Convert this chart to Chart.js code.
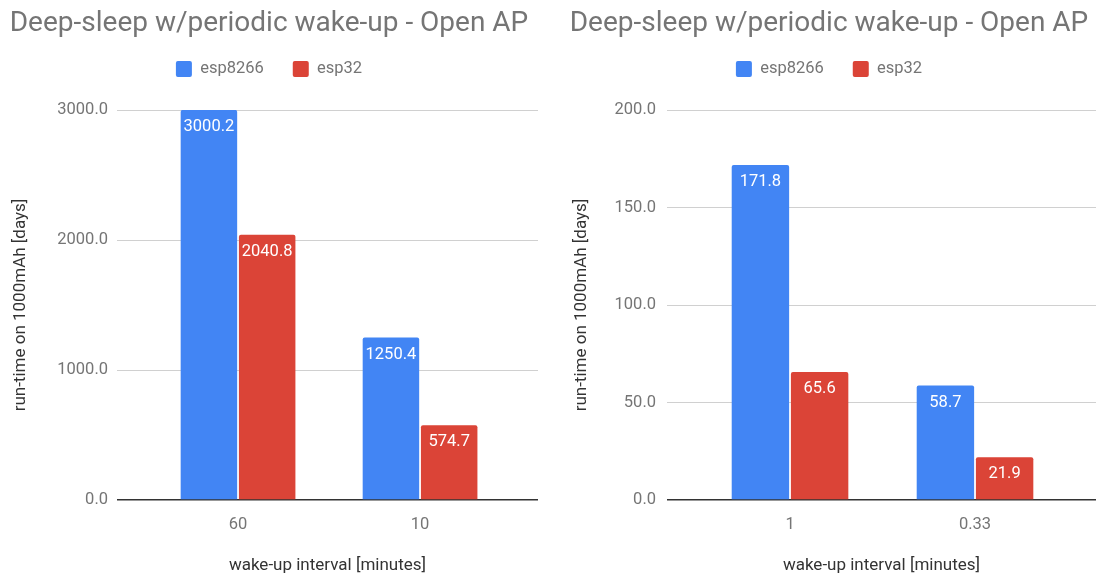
<!DOCTYPE html>
<html><head><meta charset="utf-8">
<script src="https://cdn.jsdelivr.net/npm/chart.js@4.4.0/dist/chart.umd.min.js"></script>
<style>
html,body{margin:0;padding:0;background:#fff;width:1097px;height:578px;overflow:hidden}
.box{position:absolute;top:0;height:578px}
</style></head><body>
<div class="box" style="left:0;width:548px"><canvas id="c1" width="548" height="578"></canvas></div>
<div class="box" style="left:548px;width:549px"><canvas id="c2" width="549" height="578"></canvas></div>
<script>
const titleText = 'Deep-sleep w/periodic wake-up - Open AP';
const seriesNames = ['esp8266', 'esp32'];
const seriesColors = ['#4285F4', '#DB4437'];
const xTitle = 'wake-up interval [minutes]';
const yTitle = 'run-time on 1000mAh [days]';

const categoriesLeft = ['60', '10'];
const esp8266Left = [3000.2, 1250.4];
const esp32Left = [2040.8, 574.7];
const yTicksLeft = [0, 1000, 2000, 3000];

const categoriesRight = ['1', '0.33'];
const esp8266Right = [171.8, 58.7];
const esp32Right = [65.6, 21.9];
const yTicksRight = [0, 50, 100, 150, 200];

Chart.defaults.font.family = 'Roboto, "Noto Sans", sans-serif';

const barLabels = {
  id: 'barLabels',
  afterDatasetsDraw(chart) {
    const ctx = chart.ctx;
    ctx.save();
    ctx.font = '16.5px Roboto';
    ctx.fillStyle = '#ffffff';
    ctx.textAlign = 'center';
    ctx.textBaseline = 'middle';
    chart.data.datasets.forEach((ds, di) => {
      chart.getDatasetMeta(di).data.forEach((bar, i) => {
        ctx.fillText(ds.data[i].y.toFixed(1), bar.x, bar.y + 17);
      });
    });
    ctx.restore();
  }
};

function makeChart(id, cats, s1, s2, yTicks, lay) {
  const toPoints = arr => arr.map((v, i) => ({x: i, y: v}));
  return new Chart(document.getElementById(id), {
    type: 'bar',
    data: {datasets: [
      {label: seriesNames[0], data: toPoints(s1), backgroundColor: seriesColors[0]},
      {label: seriesNames[1], data: toPoints(s2), backgroundColor: seriesColors[1]}
    ]},
    options: {
      responsive: false,
      animation: false,
      layout: {padding: {left: lay.padLeft, right: lay.padRight, top: 0, bottom: 0}},
      datasets: {bar: {categoryPercentage: 0.64, barPercentage: 0.97,
        borderRadius: {topLeft: 2, topRight: 2, bottomLeft: 0, bottomRight: 0}, borderSkipped: 'bottom'}},
      plugins: {
        title: {display: true, text: titleText, color: '#757575',
          font: {size: 28, weight: 'normal'}, padding: {top: 7.5, bottom: -9.35}},
        subtitle: {display: true, text: '', weight: 500, font: {size: 10}, padding: {top: 10.75, bottom: 0}},
        legend: {position: 'top', labels: {boxWidth: 16, boxHeight: 16, padding: 29,
          useBorderRadius: true, borderRadius: 2, color: '#757575', font: {size: 16.5}}},
        tooltip: {enabled: false}
      },
      scales: {
        x: {type: 'linear', min: -0.665, max: lay.xMax, offset: false,
          grid: {display: false, offset: false}, border: {display: false},
          afterBuildTicks: s => { s.ticks = cats.map((c, i) => ({value: i})); },
          afterFit: s => { s.height = 78; },
          ticks: {callback: v => cats[v], color: '#757575', font: {size: 16.5}, padding: 7,
            maxRotation: 0, autoSkip: false},
          title: {display: true, text: xTitle, color: '#333333', font: {size: 17}, padding: {top: 0, bottom: 1.8}}},
        y: {min: yTicks[0], max: yTicks[yTicks.length - 1],
          afterBuildTicks: s => { s.ticks = yTicks.map(v => ({value: v})); },
          afterFit: s => { s.width = lay.yWidth; },
          grid: {color: c => (c.tick && c.tick.value === 0) ? '#333333' : '#d0d0d0',
            lineWidth: c => (c.tick && c.tick.value === 0) ? 1.5 : 1, drawTicks: false},
          border: {display: false},
          ticks: {callback: v => v.toFixed(1), color: '#757575', font: {size: 16.5}, padding: lay.tickPad},
          title: {display: true, text: yTitle, color: '#333333', font: {size: 17},
            padding: {top: lay.titlePad, bottom: 0}}}
      }
    },
    plugins: [barLabels]
  });
}

makeChart('c1', categoriesLeft, esp8266Left, esp32Left, yTicksLeft,
  {padLeft: 0, padRight: 10, yWidth: 117, tickPad: 9, titlePad: 10.8, xMax: 1.648});
makeChart('c2', categoriesRight, esp8266Right, esp32Right, yTicksRight,
  {padLeft: 14, padRight: 1, yWidth: 105, tickPad: 11, titlePad: 9.8, xMax: 1.654});
</script>
</body></html>
